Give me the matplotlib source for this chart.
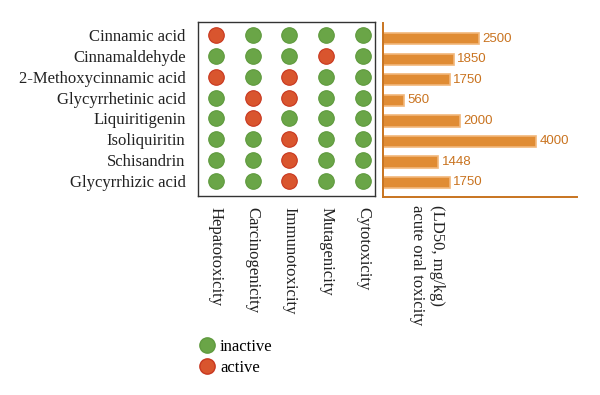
import matplotlib
matplotlib.use("Agg")
import matplotlib.pyplot as plt
from matplotlib.lines import Line2D

compounds = ["Cinnamic acid", "Cinnamaldehyde", "2-Methoxycinnamic acid",
             "Glycyrrhetinic acid", "Liquiritigenin", "Isoliquiritin",
             "Schisandrin", "Glycyrrhizic acid"]
endpoints = ["Hepatotoxicity", "Carcinogenicity", "Immunotoxicity",
             "Mutagenicity", "Cytotoxicity"]
# 1 = active, 0 = inactive
activity = [
    [1, 0, 0, 0, 0],
    [0, 0, 0, 1, 0],
    [1, 0, 1, 0, 0],
    [0, 1, 1, 0, 0],
    [0, 1, 0, 0, 0],
    [0, 0, 1, 0, 0],
    [0, 0, 1, 0, 0],
    [0, 0, 1, 0, 0],
]
ld50 = [2500, 1850, 1750, 560, 2000, 4000, 1448, 1750]
legend_labels = ["inactive", "active"]

GREEN = "#6aa547"
GREEN_E = "#5f9a3e"
RED = "#d9552e"
RED_E = "#c8371f"
ORANGE = "#e08c34"
ORANGE_E = "#f2b77a"
ORANGE_T = "#c9731f"
SERIF = ["Liberation Serif", "DejaVu Serif"]
SANS = ["Liberation Sans", "DejaVu Sans"]
FS = 12

W, H = 600, 395
fig = plt.figure(figsize=(6.0, 3.95), dpi=100)

def box(l, t, r, b):
    return [l / W, 1 - b / H, (r - l) / W, (b - t) / H]

# Dot matrix
ax1 = fig.add_axes(box(198, 22, 375, 196))
for i, row in enumerate(activity):
    for j, v in enumerate(row):
        ax1.scatter(j, i, s=125, c=RED if v else GREEN,
                    edgecolors=RED_E if v else GREEN_E, linewidths=0.8, zorder=3)
ax1.set_xlim(-0.49, 4.33)
ax1.set_ylim(7.72, -0.62)
ax1.set_yticks(range(len(compounds)))
ax1.set_yticklabels(compounds, family=SERIF, fontsize=FS, color="#222222")
ax1.set_xticks(range(len(endpoints)))
ax1.set_xticklabels(endpoints, family=SERIF, fontsize=FS, rotation=-90,
                    ha="center", va="top", color="#222222")
ax1.tick_params(axis="x", length=0, pad=8)
ax1.tick_params(axis="y", length=0, pad=9)
for s in ax1.spines.values():
    s.set_color("#333333")
    s.set_linewidth(1.0)

# Bars
ax2 = fig.add_axes(box(383, 23, 577, 197))
ax2.barh(range(len(ld50)), ld50, height=0.55, color=ORANGE,
         edgecolor=ORANGE_E, linewidth=1.2)
for i, v in enumerate(ld50):
    ax2.text(v + 90, i, str(v), va="center", ha="left", family=SANS,
             fontsize=9.5, color=ORANGE_T)
ax2.set_xlim(0, 5070)
ax2.set_ylim(7.71, -0.77)
ax2.set_xticks([])
ax2.set_yticks([])
for s in ["top", "right"]:
    ax2.spines[s].set_visible(False)
for s in ["left", "bottom"]:
    ax2.spines[s].set_color("#c8741f")
    ax2.spines[s].set_linewidth(1.4)

fig.text(417 / W, 1 - 205 / H, "acute oral toxicity", rotation=-90, ha="center",
         va="top", family=SERIF, fontsize=FS, color="#222222")
fig.text(437 / W, 1 - 205 / H, "(LD50, mg/kg)", rotation=-90, ha="center",
         va="top", family=SERIF, fontsize=FS, color="#222222")

# Legend
handles = [Line2D([], [], marker="o", ls="", markersize=11, markerfacecolor=GREEN,
                  markeredgecolor=GREEN_E),
           Line2D([], [], marker="o", ls="", markersize=11, markerfacecolor=RED,
                  markeredgecolor=RED_E)]
fig.legend(handles, legend_labels, loc="upper left",
           bbox_to_anchor=(190 / W, 1 - 332 / H), frameon=False,
           prop={"family": SERIF, "size": FS}, handletextpad=0.2,
           labelspacing=0.3, borderaxespad=0, handlelength=1.2)

fig.savefig("out.png", dpi=100)
